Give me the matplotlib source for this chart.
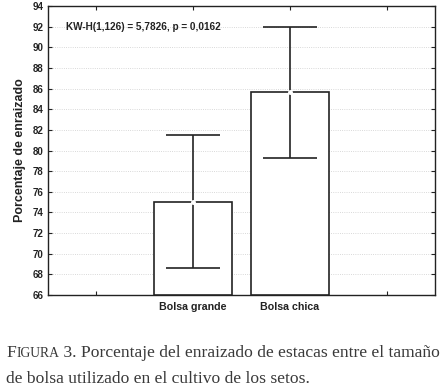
import numpy as np
import matplotlib.pyplot as plt

groups = ["Bolsa grande", "Bolsa chica"]
means = [75.0, 85.7]
upper = [81.5, 92.0]
lower = [68.6, 79.3]
yticks = list(range(66, 95, 2))
stat_text = "KW-H(1,126) = 5,7826, p = 0,0162"

plt.rcParams['font.family'] = ['Liberation Sans', 'DejaVu Sans']

fig = plt.figure(figsize=(4.47, 3.92), dpi=100)
ax = fig.add_axes([48/447, 1-295/392, 387/447, 289/392])

pos = np.array([1, 2])
ax.bar(pos, [m - 66 for m in means], bottom=66, width=0.8, color='white',
       edgecolor='#222222', linewidth=1.2, zorder=3)
ax.vlines(pos, lower, upper, color='#222222', linewidth=1.2, zorder=4)
ax.hlines(upper, pos - 0.28, pos + 0.28, color='#222222', linewidth=1.2, zorder=4)
ax.hlines(lower, pos - 0.28, pos + 0.28, color='#222222', linewidth=1.2, zorder=4)
ax.plot(pos, means, 'o', ms=2.5, mfc='white', mec='white', zorder=5)

ax.set_xlim(-0.5, 3.5)
ax.set_ylim(66, 94)
ax.set_yticks(yticks)
ax.set_yticklabels([str(t) for t in yticks], fontsize=7, fontweight='bold', color='#222222')
ax.set_xticks([0, 1, 2, 3])
ax.set_xticklabels(["", groups[0], groups[1], ""], fontsize=7.7, fontweight='bold', color='#222222')
ax.tick_params(direction='in', top=True, right=True, length=3, width=0.8, pad=3, colors='#222222')
ax.tick_params(axis='x', pad=5)
ax.yaxis.grid(True, linestyle=':', color='#cccccc', linewidth=0.6, zorder=0)
for s in ax.spines.values():
    s.set_linewidth(1.0)
    s.set_color('#222222')
ax.set_ylabel("Porcentaje de enraizado", fontsize=9, fontweight='bold', color='#222222', labelpad=5)
ax.text(-0.31, 92, stat_text, fontsize=7.2, fontweight='bold', color='#222222', va='center')

# caption with small caps for FIGURA
cap_font = ['Liberation Serif', 'DejaVu Serif']
fig.canvas.draw()
r = fig.canvas.get_renderer()
x0, y1 = 6/447, 1 - 357/392
t1 = fig.text(x0, y1, "F", fontsize=12.6, family=cap_font, color='#3a3a3a', va='baseline')
bb = t1.get_window_extent(r)
t2 = fig.text((bb.x1 + 0.5)/447, y1, "IGURA", fontsize=9.8, family=cap_font, color='#3a3a3a', va='baseline')
bb2 = t2.get_window_extent(r)
fig.text(bb2.x1/447, y1, " 3. Porcentaje del enraizado de estacas entre el tamaño",
         fontsize=12.6, family=cap_font, color='#3a3a3a', va='baseline')
fig.text(x0, 1 - 383/392, "de bolsa utilizado en el cultivo de los setos.",
         fontsize=12.6, family=cap_font, color='#3a3a3a', va='baseline')

fig.savefig("out.png", dpi=100)
